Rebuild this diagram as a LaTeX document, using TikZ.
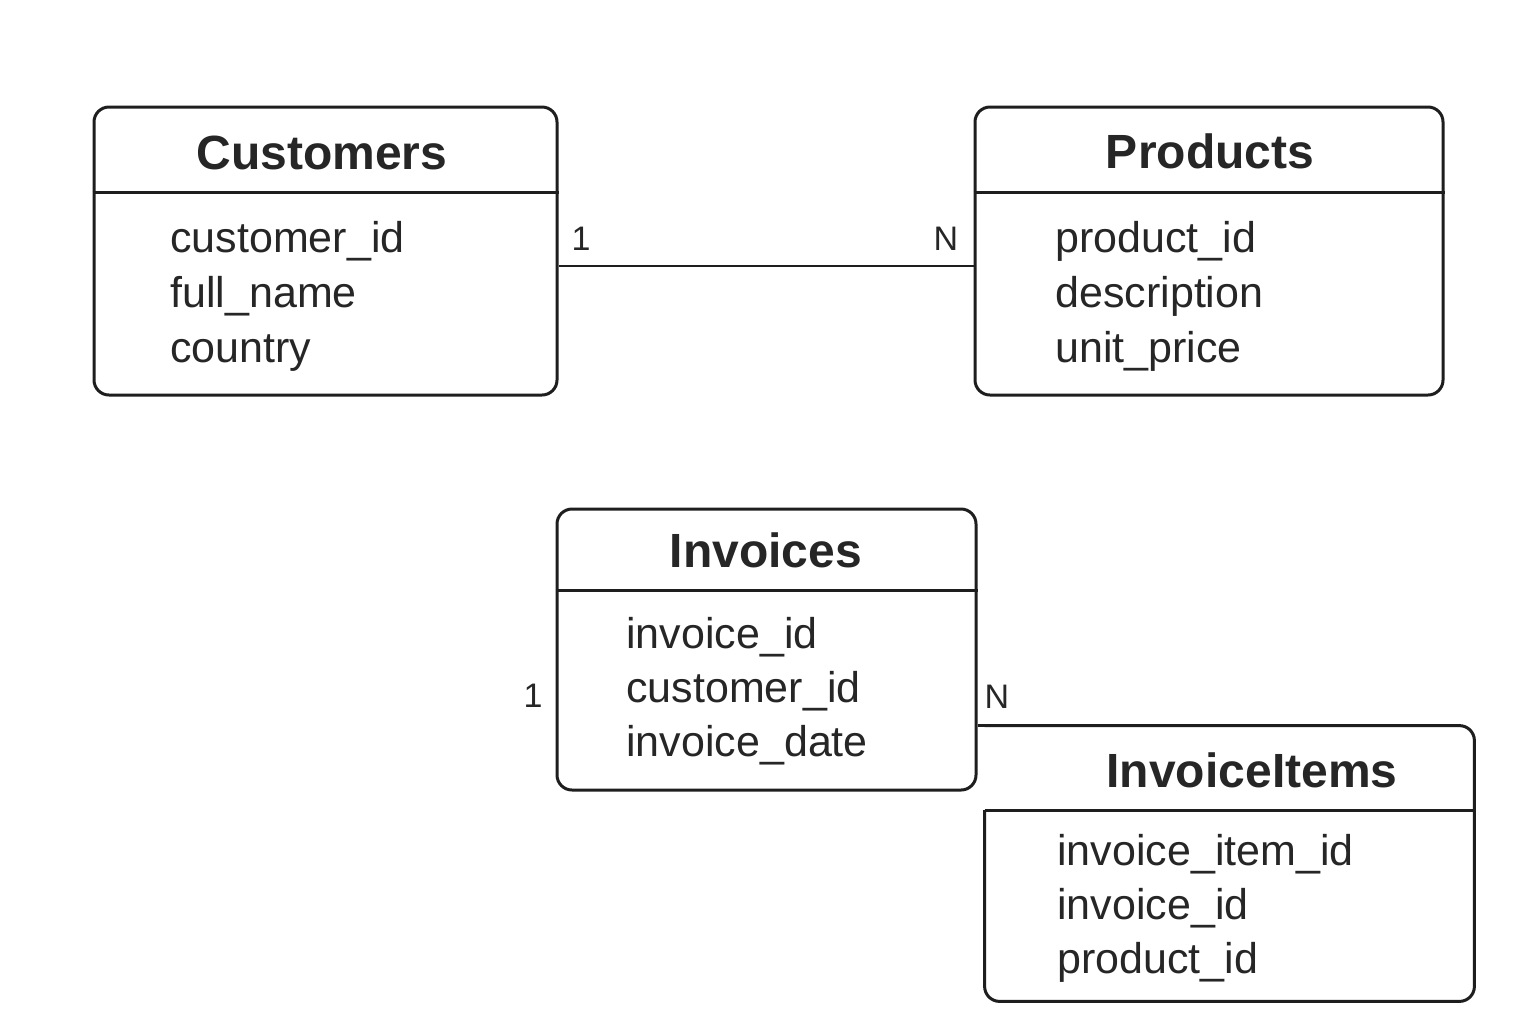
\documentclass[tikz,border=0pt]{standalone}
\usepackage{fontspec}
\setmainfont{Liberation Sans}
\definecolor{linec}{HTML}{1E1E1E}
\definecolor{textc}{HTML}{262626}
\tikzset{
  tablebox/.style={draw=linec, line width=1.5pt, rounded corners=7.5pt, inner sep=0pt},
  headline/.style={draw=linec, line width=1.5pt},
  reltext/.style={draw=linec, line width=1.4pt},
  tabletitle/.style={anchor=base, text=textc, font=\fontsize{24}{28}\selectfont\bfseries},
  fieldtext/.style={anchor=base west, inner sep=0pt, text=textc, font=\fontsize{21.5}{25}\selectfont},
  cardtext/.style={anchor=base, text=textc, font=\fontsize{17}{20}\selectfont}
}
\begin{document}
\begin{tikzpicture}[x=0.5pt, y=-0.5pt]
    \useasboundingbox[fill=white] (0,0) rectangle (1536,1024);

    % Table boxes
    \node[tablebox, minimum width=231.5pt, minimum height=144pt] (cust) at (325.5, 251) {};
    \node[tablebox, minimum width=234pt, minimum height=144pt] (prod) at (1209, 251) {};
    \node[tablebox, minimum width=209.5pt, minimum height=140.5pt] (inv) at (766.5, 649.5) {};
    \node[inner sep=0pt, minimum width=244.5pt, minimum height=137.5pt] (items) at (1229.5, 863.5) {};

    % Header separators
    \coordinate (toprule) at (0, 192);
    \coordinate (invrule) at (0, 590);
    \coordinate (itemsrule) at (0, 810);
    \draw[headline] (cust.west |- toprule) -- (cust.east |- toprule);
    \draw[headline] (prod.west |- toprule) -- (prod.east |- toprule);
    \draw[headline] (inv.west |- invrule) -- (inv.east |- invrule);

    % InvoiceItems outline (open on the left of the header)
    \draw[tablebox] (items.north west) -- (items.north east) -- (items.south east)
        -- (items.south west) -- (items.west |- itemsrule);
    \draw[headline] (items.west |- itemsrule) -- (items.east |- itemsrule);

    % Titles
    \node[tabletitle] (custtitle) at (322, 169) {Customers};
    \node[tabletitle] (prodtitle) at (1210, 168) {Products};
    \node[tabletitle] (invtitle) at (766, 567) {Invoices};
    \node[tabletitle] (itemstitle) at (1252, 787) {InvoiceItems};

    % Customers fields
    \node[fieldtext] (custid) at (170, 252) {customer\_id};
    \node[fieldtext] (custname) at (170, 307) {full\_name};
    \node[fieldtext] (custcountry) at (170, 362) {country};

    % Products fields
    \node[fieldtext] (prodid) at (1055, 252) {product\_id};
    \node[fieldtext] (proddesc) at (1055, 307) {description};
    \node[fieldtext] (prodprice) at (1055, 362) {unit\_price};

    % Invoices fields
    \node[fieldtext] (invid) at (626, 648) {invoice\_id};
    \node[fieldtext] (invcust) at (626, 702) {customer\_id};
    \node[fieldtext] (invdate) at (626, 756) {invoice\_date};

    % InvoiceItems fields
    \node[fieldtext] (itemid) at (1057, 865) {invoice\_item\_id};
    \node[fieldtext] (iteminv) at (1057, 919) {invoice\_id};
    \node[fieldtext] (itemprod) at (1057, 973) {product\_id};

    % Relationships
    \coordinate (custlink) at (0, 266);
    \draw[reltext] (cust.east |- custlink) -- (prod.west |- custlink);
    \draw[reltext] (inv.east |- items.north) -- (items.north west);

    % Cardinality labels
    \node[cardtext] (custone) at (581, 250) {1};
    \node[cardtext] (prodmany) at (946, 250) {N};
    \node[cardtext] (invone) at (533, 707) {1};
    \node[cardtext] (itemsmany) at (997, 708) {N};
\end{tikzpicture}
\end{document}
